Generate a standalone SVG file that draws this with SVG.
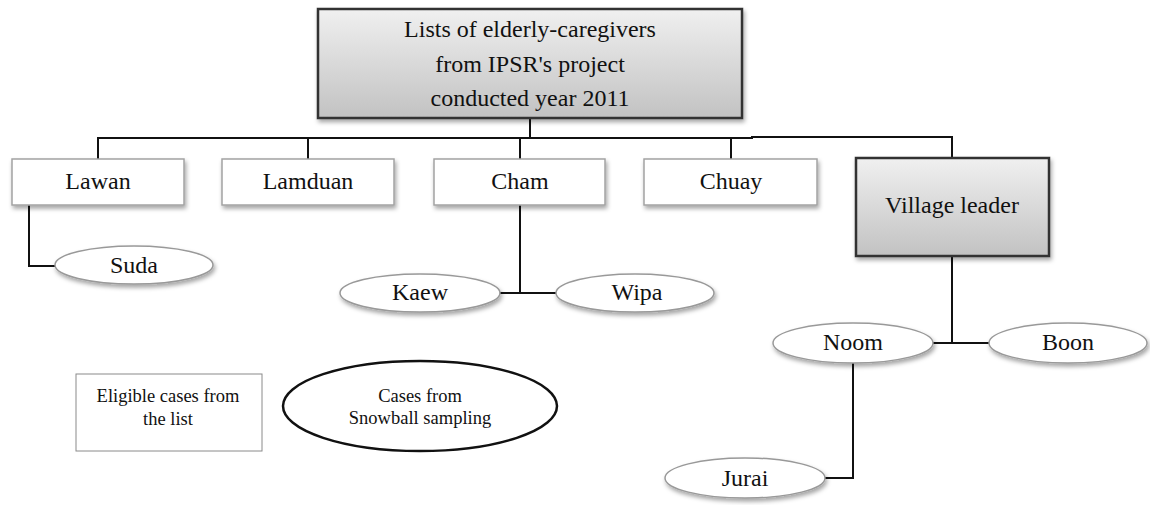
<svg xmlns="http://www.w3.org/2000/svg" width="1150" height="505" viewBox="0 0 1150 505">
<defs>
<linearGradient id="grey" x1="0" y1="0" x2="0" y2="1">
<stop offset="0" stop-color="#f0f0f0"/>
<stop offset="1" stop-color="#c2c2c2"/>
</linearGradient>
<filter id="sh" x="-10%" y="-20%" width="125%" height="150%">
<feDropShadow dx="1.5" dy="3" stdDeviation="2" flood-color="#000" flood-opacity="0.35"/>
</filter>
<style>
text{font-family:"Liberation Serif","Times New Roman",serif;fill:#111;text-anchor:middle}
.t{font-size:24px}
.s{font-size:18.5px}
.box{fill:#fff;stroke:#a3a3a3;stroke-width:1.5;filter:url(#sh)}
.dark{fill:url(#grey);stroke:#333;stroke-width:2.5;filter:url(#sh)}
.ell{fill:#fff;stroke:#999;stroke-width:1.5;filter:url(#sh)}
.con{fill:none;stroke:#111;stroke-width:2}
</style>
</defs>
<rect width="1150" height="505" fill="#fff"/>
<g id="connectors" class="con">
<path d="M530 118 V138"/>
<path d="M98 159 V138 H752 V137 H952 V158"/>
<path d="M308 138 V159"/>
<path d="M520 138 V159"/>
<path d="M731 138 V159"/>
<path d="M29 205 V266 H55"/>
<path d="M520 205 V293"/>
<path d="M499 293 H556"/>
<path d="M952 256 V343"/>
<path d="M933 343 H989"/>
<path d="M853 362 V478 H825"/>
</g>
<g id="root">
<rect class="dark" x="318" y="9" width="424" height="109"/>
<text class="t" x="530" y="37">Lists of elderly-caregivers</text>
<text class="t" x="530" y="72">from IPSR's project</text>
<text class="t" x="530" y="106">conducted year 2011</text>
</g>
<g id="lawan"><rect class="box" x="12" y="159" width="172" height="46"/><text class="t" x="98" y="189">Lawan</text></g>
<g id="lamduan"><rect class="box" x="222" y="159" width="172" height="46"/><text class="t" x="308" y="189">Lamduan</text></g>
<g id="cham"><rect class="box" x="434" y="159" width="171" height="46"/><text class="t" x="520" y="189">Cham</text></g>
<g id="chuay"><rect class="box" x="644" y="159" width="173" height="46"/><text class="t" x="731" y="189">Chuay</text></g>
<g id="village-leader"><rect class="dark" x="856" y="158" width="193" height="98"/><text class="t" x="952" y="213">Village leader</text></g>
<g id="suda"><ellipse class="ell" cx="134" cy="265" rx="79" ry="19"/><text class="t" x="134" y="273">Suda</text></g>
<g id="kaew"><ellipse class="ell" cx="420" cy="293" rx="80" ry="19"/><text class="t" x="420" y="300">Kaew</text></g>
<g id="wipa"><ellipse class="ell" cx="635" cy="293" rx="79" ry="19"/><text class="t" x="637" y="300">Wipa</text></g>
<g id="noom"><ellipse class="ell" cx="853" cy="343" rx="80" ry="20"/><text class="t" x="853" y="350">Noom</text></g>
<g id="boon"><ellipse class="ell" cx="1068" cy="343" rx="79" ry="20"/><text class="t" x="1068" y="350">Boon</text></g>
<g id="jurai"><ellipse class="ell" cx="745" cy="478" rx="80" ry="20"/><text class="t" x="745" y="486">Jurai</text></g>
<g id="legend-list"><rect x="76" y="374" width="186" height="77" fill="#fff" stroke="#8a8a8a" stroke-width="1"/><text class="s" x="168" y="402">Eligible cases from</text><text class="s" x="168" y="425">the list</text></g>
<g id="legend-snowball"><ellipse cx="420" cy="406" rx="137" ry="45" fill="#fff" stroke="#111" stroke-width="2.5"/><text class="s" x="420" y="402">Cases from</text><text class="s" x="420" y="424">Snowball sampling</text></g>
</svg>
